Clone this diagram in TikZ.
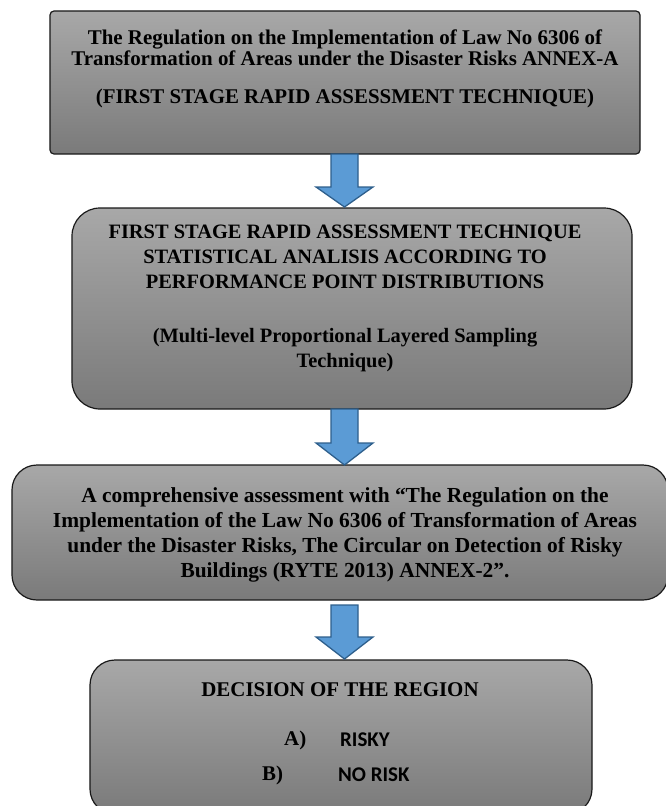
\documentclass[tikz,border=0pt]{standalone}
\usepackage{fontspec}
\setmainfont{Liberation Serif}
\newfontfamily\calfont{Carlito}
\usetikzlibrary{calc}
\definecolor{boxtop}{HTML}{A8A8A8}
\definecolor{boxbot}{HTML}{7A7A7A}
\definecolor{arrfill}{HTML}{5B9BD5}
\definecolor{arrline}{HTML}{2E5F8C}
\tikzset{
  box/.style={draw=black!90, line width=1.2pt, top color=boxtop, bottom color=boxbot, inner sep=0pt},
  txt/.style={align=center, font=\fontsize{21}{21.5}\selectfont\bfseries, inner sep=0pt},
  txtb/.style={align=center, font=\fontsize{20.5}{25}\selectfont\bfseries, inner sep=0pt},
  txtc/.style={align=center, font=\fontsize{21.5}{25}\selectfont\bfseries, inner sep=0pt},
  sans/.style={font=\fontsize{21}{25}\selectfont\calfont\bfseries, inner sep=0pt, anchor=west},
  blockarrow/.style={draw=arrline, line width=1.3pt, fill=arrfill, line join=miter}
}
\begin{document}
\begin{tikzpicture}[x=1bp,y=-1bp]
\useasboundingbox (0,0) rectangle (666,806);
\clip (0,0) rectangle (666,806);
% boxes
\node[box, rounded corners=4bp, minimum width=590bp, minimum height=143bp] (b1) at (345,82.5) {};
\node[box, rounded corners=28bp, minimum width=560bp, minimum height=201bp] (b2) at (352,308.5) {};
\node[box, rounded corners=25bp, minimum width=656bp, minimum height=135bp] (b3) at (340,532.5) {};
\node[box, rounded corners=25bp, minimum width=502bp, minimum height=154bp] (b4) at (341,737) {};
% texts
\node[txt] (t1a) at (345,47.5) {The Regulation on the Implementation of Law No 6306 of\\Transformation of Areas under the Disaster Risks ANNEX-A};
\node[txt] (t1b) at (345,98) {(FIRST STAGE RAPID ASSESSMENT TECHNIQUE)};
\node[txtb] (t2a) at (345,257) {FIRST STAGE RAPID ASSESSMENT TECHNIQUE\\STATISTICAL ANALISIS ACCORDING TO\\PERFORMANCE POINT DISTRIBUTIONS};
\node[txtb] (t2b) at (345,350.5) {(Multi-level Proportional Layered Sampling\\Technique)};
\node[txtc] (t3) at (345,535) {A comprehensive assessment with “The Regulation on the\\Implementation of the Law No 6306 of Transformation of Areas\\under the Disaster Risks, The Circular on Detection of Risky\\Buildings (RYTE 2013) ANNEX-2”.};
\node[txt] (t4) at (340,690) {DECISION OF THE REGION};
\node[txt, anchor=west] (la) at (284,740) {A)};
\node[sans] (ra) at (340,740) {RISKY};
\node[txt, anchor=west] (lb) at (262,775) {B)};
\node[sans] (rb) at (338,775) {NO RISK};
% arrows
\draw[blockarrow] (331,154) -- (358,154) -- (358,187) -- (373,187) -- (344.5,207) -- (316,187) -- (331,187) -- cycle;
\draw[blockarrow] (331,409) -- (358,409) -- (358,443) -- (373,443) -- (344.5,465) -- (316,443) -- (331,443) -- cycle;
\draw[blockarrow] (331,605) -- (358,605) -- (358,637) -- (373,637) -- (344.5,659) -- (316,637) -- (331,637) -- cycle;
\end{tikzpicture}
\end{document}
